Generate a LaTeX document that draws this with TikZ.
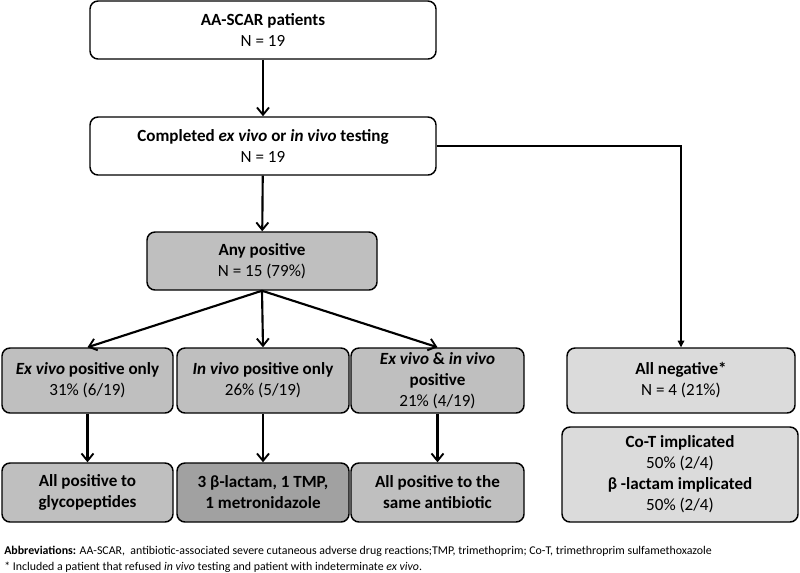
\documentclass[tikz,border=0pt]{standalone}
\usepackage{fontspec}
\setmainfont{Carlito}
\usetikzlibrary{arrows.meta,positioning}

\begin{document}
\begin{tikzpicture}[x=0.75pt,y=-0.75pt,
		box/.style={draw, line width=1.1pt, rounded corners=6pt, align=center,
			inner sep=0pt, font=\fontsize{12.8}{15.8}\selectfont},
		whitebox/.style={box, fill=white},
		midbox/.style={box, fill=black!25},
		darkbox/.style={box, fill=black!37},
		lightbox/.style={box, fill=black!14},
		flow/.style={line width=1.6pt, -{Straight Barb[length=5.5pt,width=9pt,line width=1.4pt]}},
		side/.style={line width=0.9pt, -{Triangle[length=5pt,width=5pt]}}]
		\useasboundingbox (0,0) rectangle (800,572);
		% top of the flow
		\node[whitebox, minimum width=259.5pt, minimum height=43.5pt] (pts) at (263,30)
			{\textbf{AA-SCAR patients}\\N = 19};
		\node[whitebox, minimum width=259.5pt, minimum height=43.5pt] (done) at (263,146)
			{\textbf{Completed \emph{ex vivo} or \emph{in vivo} testing}\\N = 19};
		\node[midbox, minimum width=172.5pt, minimum height=43.5pt] (anypos) at (262,261)
			{\textbf{Any positive}\\N = 15 (79\%)};
		% positive branches
		\node[midbox, minimum width=128.25pt, minimum height=48.75pt] (exonly) at (87.5,380.5)
			{\textbf{\emph{Ex vivo} positive only}\\31\% (6/19)};
		\node[midbox, minimum width=129pt, minimum height=48.75pt] (inonly) at (263,380.5)
			{\textbf{\emph{In vivo} positive only}\\26\% (5/19)};
		\node[midbox, minimum width=129.75pt, minimum height=48.75pt] (both) at (437.5,380.5)
			{\textbf{\emph{Ex vivo} \& \emph{in vivo}}\\\textbf{positive}\\21\% (4/19)};
		\node[midbox, minimum width=128.25pt, minimum height=44.25pt] (glyco) at (87.5,492.5)
			{\textbf{All positive to}\\\textbf{glycopeptides}};
		\node[darkbox, minimum width=129pt, minimum height=44.25pt] (lactam) at (263,492.5)
			{\textbf{3 β-lactam, 1 TMP,}\\\textbf{1 metronidazole}};
		\node[midbox, minimum width=129.75pt, minimum height=44.25pt] (same) at (437.5,492.5)
			{\textbf{All positive to the}\\\textbf{same antibiotic}};
		% negative branch
		\node[lightbox, minimum width=171pt, minimum height=48.75pt] (neg) at (681,380.5)
			{\textbf{All negative*}\\N = 4 (21\%)};
		\node[lightbox, minimum width=177pt, minimum height=71.25pt] (impl) at (680,474.5)
			{\textbf{Co-T implicated}\\50\% (2/4)\\\textbf{β -lactam implicated}\\50\% (2/4)};
		% connectors
		\draw[flow] (pts) -- (done);
		\draw[flow] (done) -- (anypos);
		\draw[flow] (anypos.south) -- (exonly.north);
		\draw[flow] (anypos.south) -- (inonly.north);
		\draw[flow] (anypos.south) -- (both.north);
		\draw[flow] (exonly) -- (glyco);
		\draw[flow] (inonly) -- (lactam);
		\draw[flow] (both) -- (same);
		\draw[side] (done.east) -| (neg.north);
		% notes
		\node[anchor=west, inner sep=0pt, font=\fontsize{8.9}{12}\selectfont, align=left] (notes) at (4,559)
			{\textbf{Abbreviations:} AA-SCAR,\ \ antibiotic-associated severe cutaneous adverse drug reactions;TMP, trimethoprim; Co-T, trimethroprim sulfamethoxazole\\
			* Included a patient that refused \emph{in vivo} testing and patient with indeterminate \emph{ex vivo}.};
	\end{tikzpicture}
\end{document}
